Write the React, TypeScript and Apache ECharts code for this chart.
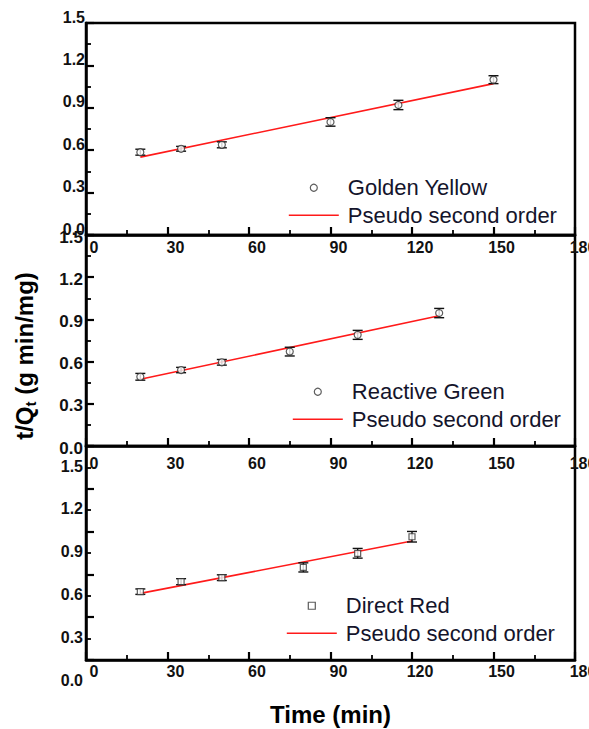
import React, { useEffect, useRef } from "react";
import * as echarts from "echarts";

// Sorption kinetics: t/Qt versus contact time, with pseudo-second-order fits
const xTickValues = [0, 30, 60, 90, 120, 150, 180];
const yTickValues = [0.0, 0.3, 0.6, 0.9, 1.2, 1.5];

const goldenTime = [20, 35, 50, 90, 115, 150];
const goldenTQt = [0.586, 0.61, 0.638, 0.8, 0.92, 1.099];
const goldenErr = [0.021, 0.017, 0.021, 0.03, 0.033, 0.028];
const goldenFit = [[20, 0.551], [150, 1.071]];

const greenTime = [20, 35, 50, 75, 100, 130];
const greenTQt = [0.492, 0.54, 0.595, 0.671, 0.79, 0.945];
const greenErr = [0.024, 0.019, 0.02, 0.031, 0.032, 0.033];
const greenFit = [[20, 0.474], [130, 0.926]];

const redTime = [20, 35, 50, 80, 100, 120];
const redTQt = [0.479, 0.549, 0.577, 0.649, 0.748, 0.864];
const redErr = [0.019, 0.021, 0.02, 0.032, 0.034, 0.037];
const redFit = [[20, 0.467], [120, 0.834]];

const dyeNames = ["Golden Yellow", "Reactive Green", "Direct Red"];
const fitName = "Pseudo second order";

const FONT = "'Liberation Sans', Arial, sans-serif";
const INK = "#111";
const LEGEND_INK = "#14142b";
const SQUARE_ICON = "path://M0,0 L10,0 L10,10 L0,10 Z";

const panels = [
  {
    name: dyeNames[0], time: goldenTime, tqt: goldenTQt, err: goldenErr, fit: goldenFit,
    symbol: "circle", icon: "circle",
    grid: { top: 23, height: 212 },
    yLabel: { fontSize: 16, margin: 1, verticalAlign: "bottom", lineHeight: 12 },
    xLabel: { margin: 4 },
    legend: { left: 288, top: 174 },
  },
  {
    name: dyeNames[1], time: greenTime, tqt: greenTQt, err: greenErr, fit: greenFit,
    symbol: "circle", icon: "circle",
    grid: { top: 235, height: 211 },
    yLabel: { fontSize: 17, margin: 3, verticalAlign: "top", lineHeight: 4 },
    xLabel: { margin: 9 },
    legend: { left: 292, top: 378 },
  },
  {
    name: dyeNames[2], time: redTime, tqt: redTQt, err: redErr, fit: redFit,
    symbol: "rect", icon: SQUARE_ICON,
    grid: { top: 446, height: 214 },
    yLabel: { fontSize: 16, margin: 3, verticalAlign: "top", lineHeight: 40 },
    xLabel: { margin: 3 },
    legend: { left: 286, top: 592 },
  },
];

function buildOption() {
  const grid: any[] = [];
  const xAxis: any[] = [];
  const yAxis: any[] = [];
  const series: any[] = [];
  const legend: any[] = [];

  panels.forEach((p, i) => {
    grid.push({
      left: 86,
      width: 489,
      top: p.grid.top,
      height: p.grid.height,
      containLabel: false,
      outerBoundsMode: "none",
      show: true,
      borderColor: "#000",
      borderWidth: 2.5,
      backgroundColor: "transparent",
    });

    const axisCommon = {
      gridIndex: i,
      type: "value",
      axisLine: { show: true, onZero: false, lineStyle: { color: "#000", width: 2.5 } },
      axisTick: { show: true, inside: true, length: 8, lineStyle: { color: "#000", width: 2.2 } },
      minorTick: { show: true, splitNumber: 2, length: 5, lineStyle: { color: "#000", width: 1.8 } },
      splitLine: { show: false },
    };

    xAxis.push({
      ...axisCommon,
      min: xTickValues[0],
      max: xTickValues[xTickValues.length - 1],
      interval: xTickValues[1] - xTickValues[0],
      axisLabel: {
        show: true,
        margin: p.xLabel.margin,
        fontFamily: FONT,
        fontWeight: "bold",
        fontSize: 16,
        color: INK,
        // a blank lead token nudges each number to the right of its tick
        formatter: (v: number) => `{gap| }{num|${v}}`,
        rich: {
          gap: { width: 16, fontSize: 16 },
          num: { fontFamily: FONT, fontWeight: "bold", fontSize: 16, color: INK },
        },
        showMaxLabel: true,
        showMinLabel: true,
      },
      ...(i === panels.length - 1
        ? {
            name: "Time (min)",
            nameLocation: "middle",
            nameGap: 42,
            nameTextStyle: { fontFamily: FONT, fontWeight: "bold", fontSize: 24, color: "#000" },
          }
        : {}),
    });

    yAxis.push({
      ...axisCommon,
      min: yTickValues[0],
      max: yTickValues[yTickValues.length - 1],
      interval: yTickValues[1] - yTickValues[0],
      axisLabel: {
        show: true,
        margin: p.yLabel.margin,
        fontFamily: FONT,
        fontWeight: "bold",
        fontSize: p.yLabel.fontSize,
        color: INK,
        verticalAlign: p.yLabel.verticalAlign,
        lineHeight: p.yLabel.lineHeight,
        formatter: (v: number) => v.toFixed(1),
        showMaxLabel: true,
        showMinLabel: true,
      },
    });

    series.push({
      name: fitName,
      type: "line",
      xAxisIndex: i,
      yAxisIndex: i,
      data: p.fit,
      symbol: "none",
      lineStyle: { color: "#ff1a1a", width: 1.6 },
      itemStyle: { color: "#ff1a1a" },
      z: 2,
    });

    series.push({
      name: p.name + " error",
      type: "custom",
      xAxisIndex: i,
      yAxisIndex: i,
      data: p.time.map((t, k) => [t, p.tqt[k], p.err[k]]),
      encode: { x: 0, y: 1 },
      z: 3,
      renderItem: (_params: any, api: any) => {
        const x = api.value(0);
        const y = api.value(1);
        const e = api.value(2);
        const lo = api.coord([x, y - e]);
        const hi = api.coord([x, y + e]);
        const hw = 5;
        const style = { stroke: "#111", lineWidth: 1.4 };
        return {
          type: "group",
          children: [
            { type: "line", shape: { x1: lo[0], y1: lo[1], x2: hi[0], y2: hi[1] }, style },
            { type: "line", shape: { x1: lo[0] - hw, y1: lo[1], x2: lo[0] + hw, y2: lo[1] }, style },
            { type: "line", shape: { x1: hi[0] - hw, y1: hi[1], x2: hi[0] + hw, y2: hi[1] }, style },
          ],
        };
      },
    });

    series.push({
      name: p.name,
      type: "scatter",
      xAxisIndex: i,
      yAxisIndex: i,
      data: p.time.map((t, k) => [t, p.tqt[k]]),
      symbol: p.symbol,
      symbolSize: p.symbol === "rect" ? 6 : 7,
      itemStyle: { color: "#fff", borderColor: "#333", borderWidth: 1.2 },
      z: 4,
    });

    legend.push({
      left: p.legend.left,
      top: p.legend.top,
      orient: "vertical",
      itemWidth: 50,
      itemHeight: 7,
      itemGap: 0,
      padding: 0,
      selectedMode: false,
      data: [
        {
          name: p.name,
          icon: p.icon,
          itemStyle: { color: "#fff", borderColor: "#333", borderWidth: 1.2 },
        },
        {
          name: fitName,
          itemStyle: { color: "rgba(0,0,0,0)", borderColor: "rgba(0,0,0,0)", borderWidth: 0, opacity: 0 },
          lineStyle: { color: "#ff1a1a", width: 1.6 },
        },
      ],
      textStyle: {
        fontFamily: FONT,
        fontSize: 22,
        lineHeight: 27.5,
        color: LEGEND_INK,
        padding: [0, 0, 0, 4],
      },
    });
  });

  return {
    animation: false,
    backgroundColor: "#fff",
    grid,
    xAxis,
    yAxis,
    series,
    legend,
    graphic: [
      {
        type: "text",
        x: 24,
        y: 356,
        rotation: Math.PI / 2,
        style: {
          text: "{a|t/Q}{b|t}{a| (g min/mg)}",
          align: "center",
          verticalAlign: "middle",
          rich: {
            a: { fontFamily: FONT, fontWeight: "bold", fontSize: 24, lineHeight: 28, fill: "#000", verticalAlign: "middle" },
            b: { fontFamily: FONT, fontWeight: "bold", fontSize: 15, lineHeight: 15, fill: "#000", verticalAlign: "bottom" },
          },
        },
      },
    ],
  };
}

export default function App() {
  const ref = useRef<HTMLDivElement>(null);

  useEffect(() => {
    if (!ref.current) return;
    const chart = echarts.init(ref.current, undefined, { renderer: "svg" });
    chart.setOption(buildOption() as any);
    return () => chart.dispose();
  }, []);

  return (
    <div
      ref={ref}
      style={{ position: "absolute", left: 0, top: 0, width: 589, height: 729, background: "#fff" }}
    />
  );
}
